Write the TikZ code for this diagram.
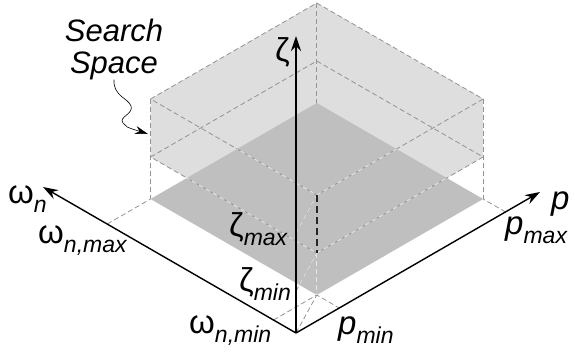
\documentclass[tikz,border=0pt]{standalone}
\usepackage{fontspec}
\setmainfont{Liberation Sans}
\usetikzlibrary{arrows.meta}
\newcommand\subtxt[1]{\raisebox{-9pt}{\fontsize{23}{23}\selectfont\itshape #1}}
\tikzset{
	boxedge/.style = {gray!85, line width = 0.8pt, dash pattern = on 5pt off 3pt},
	inedge/.style = {white!80!gray, line width = 0.8pt, dash pattern = on 5pt off 3pt},
	axis/.style = {line width = 1.4pt, -{Stealth[length=15pt,width=10pt]}},
	lbl/.style = {inner sep = 0pt, anchor = base west, font = \fontsize{33}{33}\selectfont}
}
\begin{document}
\begin{tikzpicture} [x = 1pt, y = -1pt]
	\useasboundingbox (0,0) rectangle (575,351);
	% origin and axis points
	\coordinate (O) at (296,333);
	\coordinate (zend) at (296,36);
	\coordinate (wend) at (43,187);
	\coordinate (pend) at (540,192);
	\coordinate (zmin) at (296,291);
	\coordinate (zmax) at (296,233);
	\coordinate (wmin) at (273.5,320);
	\coordinate (wmax) at (107.2,224);
	\coordinate (pmin) at (339.3,308);
	\coordinate (pmax) at (505.6,212);
	% floor
	\coordinate (F0) at (316.8,295);
	\coordinate (L0) at (150.5,199);
	\coordinate (R0) at (483.1,199);
	\coordinate (B0) at (316.8,103);
	% bottom face
	\coordinate (Fb) at (316.8,253);
	\coordinate (Lb) at (150.5,157);
	\coordinate (Rb) at (483.1,157);
	\coordinate (Bb) at (316.8,61);
	% top face
	\coordinate (Ft) at (316.8,195);
	\coordinate (Lt) at (150.5,99);
	\coordinate (Rt) at (483.1,99);
	\coordinate (Bt) at (316.8,3);
	\fill [gray!26] (Bt) -- (Rt) -- (Rb) -- (Fb) -- (Lb) -- (Lt) -- cycle;
	\fill [gray!50] (F0) -- (R0) -- (B0) -- (L0) -- cycle;
	\draw [boxedge] (Lt) -- (Bt) -- (Rt) -- (Ft) -- cycle;
	\draw [boxedge] (Lb) -- (Bb) -- (Rb) -- (Fb) -- cycle;
	\draw [boxedge] (Bt) -- (B0);
	\draw [boxedge] (Lt) -- (L0);
	\draw [boxedge] (Rt) -- (R0);
	\draw [boxedge] (Fb) -- (F0);
	\draw [boxedge] (zmax) -- (Ft);
	\draw [boxedge] (zmin) -- (Fb);
	\draw [boxedge] (O) -- (F0);
	\draw [boxedge] (wmin) -- (F0) -- (pmin);
	\draw [boxedge] (wmax) -- (L0);
	\draw [boxedge] (pmax) -- (R0);
	\scope
	\clip (F0) -- (R0) -- (B0) -- (L0) -- cycle;
	\draw [inedge] (Lt) -- (Ft) -- (Rt);
	\draw [inedge] (Lb) -- (Fb) -- (Rb);
	\draw [inedge] (Fb) -- (F0);
	\draw [inedge] (zmax) -- (Ft);
	\draw [inedge] (zmin) -- (Fb);
	\endscope
	\draw [gray!30!black, line width = 1.8pt, dash pattern = on 7pt off 4pt] (Ft) -- (Fb);
	% axes
	\draw [axis] (O) -- (wend);
	\draw [axis] (O) -- (pend);
	\draw [axis, line width = 2pt] (O) -- (zend);
	% labels
	\node [lbl] (lzeta) at (275,61) {ζ};
	\node [lbl] (lomega) at (8,203) {ω\subtxt{n}};
	\node [lbl] (lwmax) at (38,243) {ω\subtxt{n,max}};
	\node [lbl] (lwmin) at (189,333) {ω\subtxt{n,min}};
	\node [lbl] (lzmax) at (229,236) {ζ\subtxt{max}};
	\node [lbl] (lzmin) at (239,291) {ζ\subtxt{min}};
	\node [lbl] (lp) at (551,209) {\textit{p}};
	\node [lbl] (lpmax) at (505,234) {\textit{p}\subtxt{max}};
	\node [lbl] (lpmin) at (338,334) {\textit{p}\subtxt{min}};
	\node [inner sep = 0pt, align = center, font = \fontsize{31}{32}\selectfont\itshape] (search) at (114,49) {Search\\Space};
	\coordinate (sqend) at (148,134);
	\draw [line width = 0.6pt, -{Stealth[length=13pt,width=8pt]}] (search.south) .. controls (113,96) and (128,98) .. (131,106) .. controls (134,114) and (118,117) .. (123,123) .. controls (126,127) .. (sqend);
\end{tikzpicture}
\end{document}
